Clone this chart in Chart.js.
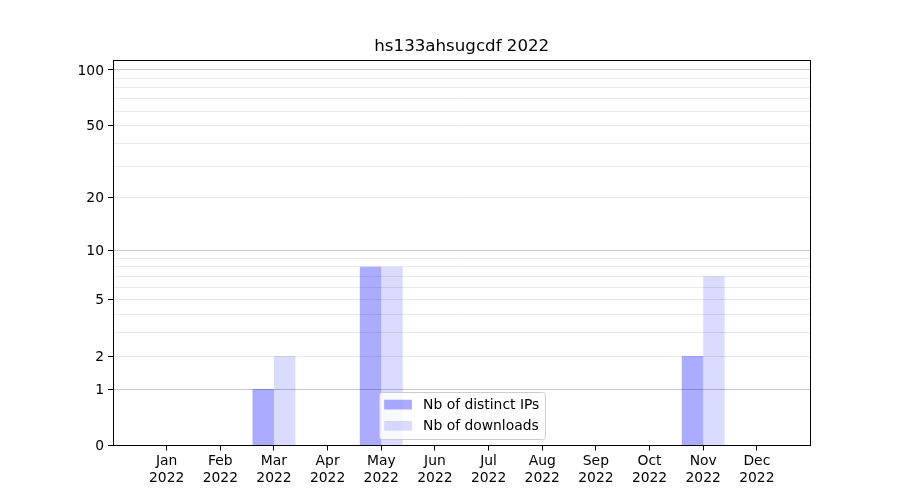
<!DOCTYPE html>
<html>
<head>
<meta charset="utf-8">
<script src="https://cdn.jsdelivr.net/npm/chart.js@4.4.0/dist/chart.umd.min.js"></script>
<style>
  body { margin: 0; background: #fff; }
  #wrap { width: 900px; height: 500px; }
</style>
</head>
<body>
<div id="wrap"><canvas id="statsChart"></canvas></div>
<script>
// data
var months = ['Jan', 'Feb', 'Mar', 'Apr', 'May', 'Jun', 'Jul', 'Aug', 'Sep', 'Oct', 'Nov', 'Dec'];
var year = '2022';
var title = 'hs133ahsugcdf 2022';
var distinctIps = [0, 0, 1, 0, 8, 0, 0, 0, 0, 0, 2, 0];
var downloads = [0, 0, 2, 0, 8, 0, 0, 0, 0, 0, 7, 0];
var yTicks = [0, 1, 2, 3, 4, 5, 6, 7, 8, 9, 10, 20, 30, 40, 50, 60, 70, 80, 90, 100];
var yLabels = [0, 1, 2, 5, 10, 20, 50, 100];
var yMajor = [1, 10, 100];

var FONT = 'DejaVu Sans';
var EM = 13.89; // 10pt at 100 dpi

// y axis like matplotlib's: position follows log10(1 + value)
class Log1pScale extends Chart.Scale {
    determineDataLimits() {
        var mm = this.getMinMax(true);
        this.min = isFinite(this.options.min) ? this.options.min : Math.max(0, mm.min);
        this.max = isFinite(this.options.max) ? this.options.max : mm.max;
    }
    buildTicks() {
        var self = this;
        return yTicks.filter(function (v) { return v >= self.min && v <= self.max; })
            .map(function (v) { return { value: v }; });
    }
    configure() {
        super.configure();
        this._start = Math.log10(1 + this.min);
        this._range = Math.log10(1 + this.max) - this._start;
    }
    getPixelForValue(value) {
        if (value === undefined || value === null || isNaN(value)) return NaN;
        return this.getPixelForDecimal((Math.log10(1 + value) - this._start) / this._range);
    }
    getValueForPixel(pixel) {
        return Math.pow(10, this._start + this.getDecimalForPixel(pixel) * this._range) - 1;
    }
    getLabelForValue(value) {
        return String(value);
    }
}
Log1pScale.id = 'log1p';
Log1pScale.defaults = {};
Chart.register(Log1pScale);

// title centred over the plot area + black frame around it
var framePlugin = {
    id: 'frame',
    afterDatasetsDraw: function (chart) {
        var a = chart.chartArea, ctx = chart.ctx;
        ctx.save();
        ctx.strokeStyle = '#000';
        ctx.lineWidth = 1;
        var l = Math.floor(a.left) + 0.5, r = Math.floor(a.right) + 0.5;
        var t = Math.floor(a.top) + 0.5, b = Math.floor(a.bottom) + 0.5;
        ctx.strokeRect(l, t, r - l, b - t);
        ctx.fillStyle = '#000';
        ctx.font = '16.67px "' + FONT + '"';
        ctx.textAlign = 'center';
        ctx.textBaseline = 'middle';
        ctx.fillText(title, (a.left + a.right) / 2, 47);
        ctx.restore();
    }
};

// matplotlib style legend, lower center inside the axes
var legendPlugin = {
    id: 'innerLegend',
    afterDraw: function (chart) {
        var ctx = chart.ctx, a = chart.chartArea;
        var pad = 0.4 * EM, handleW = 2 * EM, handleH = 0.7 * EM;
        var textPad = 0.8 * EM, rowH = 14.3, spacing = 0.5 * EM;
        var sets = chart.data.datasets;
        ctx.save();
        ctx.font = EM + 'px "' + FONT + '"';
        var textW = 0;
        sets.forEach(function (ds) { textW = Math.max(textW, ctx.measureText(ds.label).width); });
        var w = pad * 2 + handleW + textPad + textW;
        var h = pad * 2 + rowH * sets.length + spacing * (sets.length - 1);
        var x = (a.left + a.right) / 2 - w / 2;
        var y = a.bottom - 0.5 * EM - h;
        ctx.beginPath();
        ctx.roundRect(Math.round(x) + 0.5, Math.round(y) + 0.5, Math.round(w), Math.round(h), 3);
        ctx.fillStyle = 'rgba(255,255,255,0.8)';
        ctx.fill();
        ctx.strokeStyle = '#cccccc';
        ctx.lineWidth = 1;
        ctx.stroke();
        ctx.textBaseline = 'middle';
        sets.forEach(function (ds, i) {
            var cy = y + pad + rowH / 2 + i * (rowH + spacing);
            ctx.fillStyle = ds.backgroundColor;
            ctx.fillRect(x + pad, cy - handleH / 2, handleW, handleH);
            ctx.fillStyle = '#000';
            ctx.fillText(ds.label, x + pad + handleW + textPad, cy + 0.5);
        });
        ctx.restore();
    }
};

function points(values) {
    return values.map(function (v, i) { return { x: i, y: v }; });
}

var ctx = document.getElementById('statsChart').getContext('2d');
var statsChart = new Chart(ctx, {
    type: 'bar',
    data: {
        datasets: [{
            label: 'Nb of distinct IPs',
            data: points(distinctIps),
            backgroundColor: 'rgba(0, 0, 255, 0.33)',
            borderWidth: 0
        }, {
            label: 'Nb of downloads',
            data: points(downloads),
            backgroundColor: 'rgba(0, 0, 255, 0.14)',
            borderWidth: 0
        }]
    },
    options: {
        responsive: true,
        maintainAspectRatio: false,
        animation: false,
        categoryPercentage: 0.8,
        barPercentage: 1.0,
        layout: { padding: { left: 0, right: 89.5, top: 60.5, bottom: 0 } },
        plugins: {
            legend: { display: false },
            tooltip: { enabled: false },
            title: { display: false }
        },
        scales: {
            x: {
                type: 'linear',
                min: -1,
                max: 12,
                offset: false,
                afterBuildTicks: function (scale) {
                    scale.ticks = months.map(function (m, i) { return { value: i }; });
                },
                afterFit: function (scale) { scale.height = 54.5; },
                grid: { drawOnChartArea: false, drawTicks: true, tickLength: 5, tickColor: '#000', offset: false },
                border: { display: false },
                ticks: {
                    autoSkip: false,
                    maxRotation: 0,
                    padding: 3,
                    color: '#000',
                    font: { family: FONT, size: EM, lineHeight: 1.2 },
                    callback: function (value) { return [months[value], year]; }
                }
            },
            y: {
                type: 'log1p',
                min: 0,
                max: 112.5,
                afterFit: function (scale) { scale.width = 113; },
                border: { display: false },
                grid: {
                    tickLength: 5,
                    color: function (c) {
                        var v = c.tick ? c.tick.value : null;
                        if (v === 0) return 'rgba(0,0,0,0)';
                        return yMajor.indexOf(v) >= 0 ? '#c8c8c8' : '#ebebeb';
                    },
                    tickColor: function (c) {
                        var v = c.tick ? c.tick.value : null;
                        return yLabels.indexOf(v) >= 0 ? '#000' : 'rgba(0,0,0,0)';
                    }
                },
                ticks: {
                    autoSkip: false,
                    padding: 4,
                    labelOffset: 1,
                    color: '#000',
                    font: { family: FONT, size: EM },
                    callback: function (value) {
                        return yLabels.indexOf(value) >= 0 ? String(value) : '';
                    }
                }
            }
        }
    },
    plugins: [framePlugin, legendPlugin]
});
</script>
</body>
</html>
